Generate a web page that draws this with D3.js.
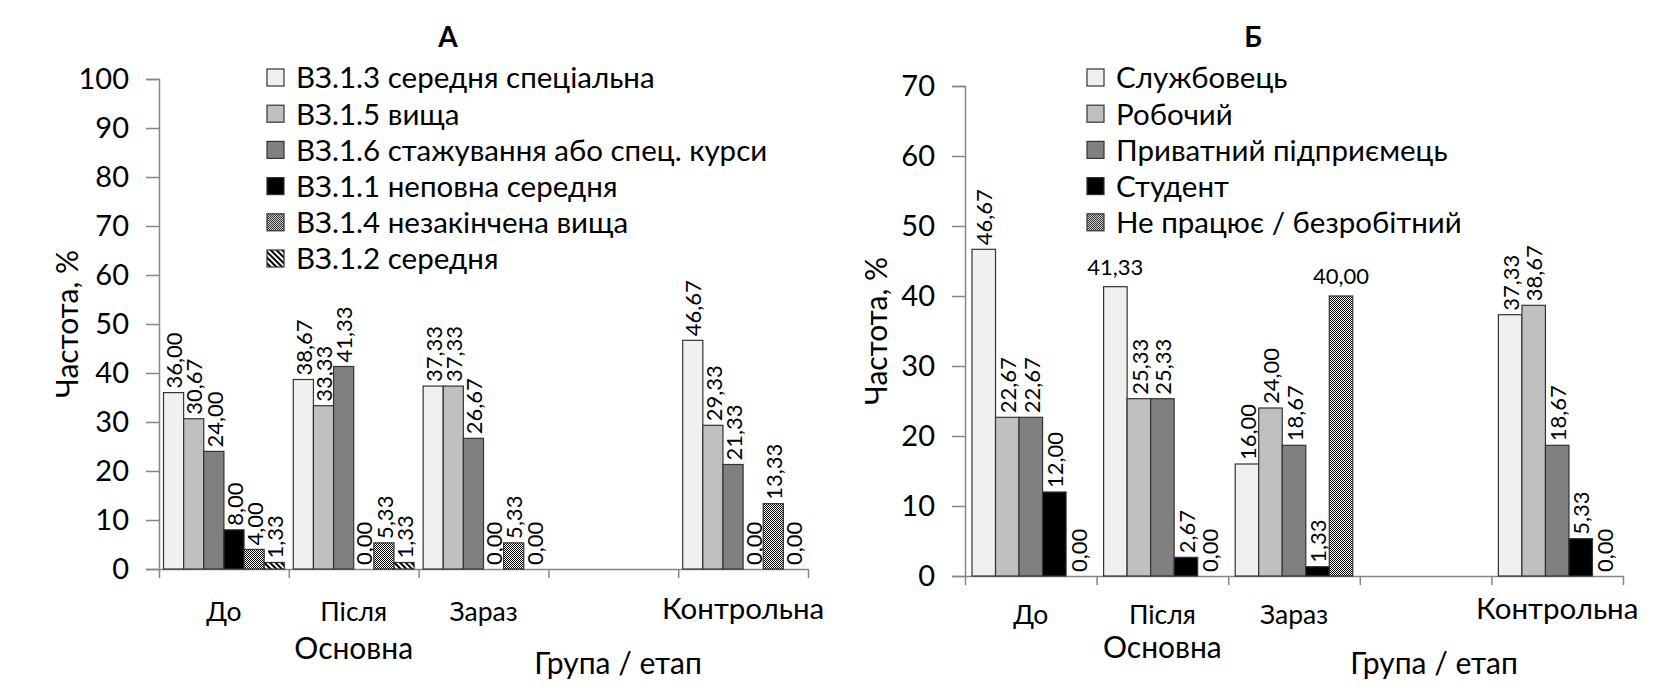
<!DOCTYPE html>
<html>
<head>
<meta charset="utf-8">
<script src="https://cdn.jsdelivr.net/npm/d3@7"></script>
<style>
  body { margin: 0; background: #fff; }
  svg text { font-family: Lato, "Open Sans", sans-serif; fill: #000; }
</style>
</head>
<body>
<svg id="chart" width="1672" height="695"></svg>
<script>
// categories on the x axis (the 4th slot is an empty gap)
var groups = ["До", "Після", "Зараз", "", "Контрольна"];

// chart A
var seriesA = ["ВЗ.1.3 середня спеціальна", "ВЗ.1.5 вища", "ВЗ.1.6 стажування або спец. курси",
               "ВЗ.1.1 неповна середня", "ВЗ.1.4 незакінчена вища", "ВЗ.1.2 середня"];
var valuesA = [
  [36.00, 38.67, 37.33, null, 46.67],
  [30.67, 33.33, 37.33, null, 29.33],
  [24.00, 41.33, 26.67, null, 21.33],
  [8.00, 0.00, 0.00, null, 0.00],
  [4.00, 5.33, 5.33, null, 13.33],
  [1.33, 1.33, 0.00, null, 0.00]
];
var ticksA = [0, 10, 20, 30, 40, 50, 60, 70, 80, 90, 100];

// chart Б
var seriesB = ["Службовець", "Робочий", "Приватний підприємець", "Студент", "Не працює / безробітний"];
var valuesB = [
  [46.67, 41.33, 16.00, null, 37.33],
  [22.67, 25.33, 24.00, null, 38.67],
  [22.67, 25.33, 18.67, null, 18.67],
  [12.00, 2.67, 1.33, null, 5.33],
  [0.00, 0.00, 40.00, null, 0.00]
];
var ticksB = [0, 10, 20, 30, 40, 50, 60, 70];

// labels drawn flat instead of rotated (series index, group index)
var flatLabelsB = [[0, 1], [4, 2]];

var fillsA = ["#f0f0f0", "#c0c0c0", "#808080", "#000", "url(#checker)", "url(#stripes)"];
var fillsB = ["#f0f0f0", "#c0c0c0", "#808080", "#000", "url(#checker)"];

var svg = d3.select("#chart");
var defs = svg.append("defs");

var checker = defs.append("pattern").attr("id", "checker")
  .attr("patternUnits", "userSpaceOnUse").attr("width", 2).attr("height", 2);
checker.append("rect").attr("width", 2).attr("height", 2).attr("fill", "#fff");
checker.append("rect").attr("width", 1).attr("height", 1).attr("fill", "#000");
checker.append("rect").attr("x", 1).attr("y", 1).attr("width", 1).attr("height", 1).attr("fill", "#000");

var stripes = defs.append("pattern").attr("id", "stripes")
  .attr("patternUnits", "userSpaceOnUse").attr("width", 4).attr("height", 4)
  .attr("patternTransform", "rotate(-45)");
stripes.append("rect").attr("width", 4).attr("height", 4).attr("fill", "#fff");
stripes.append("rect").attr("width", 2).attr("height", 4).attr("fill", "#000");

var fmt = function(v) { return v.toFixed(2).replace(".", ","); };

function drawChart(opt) {
  var g = svg.append("g");
  var x = d3.scaleBand().domain(d3.range(groups.length)).range([opt.x0, opt.x1]);
  var xs = d3.scaleBand().domain(d3.range(opt.series.length))
    .range([opt.pad, x.bandwidth() - opt.pad]);
  var y = d3.scaleLinear().domain([0, opt.max]).range([opt.y0, opt.yTop]);

  // y axis
  var ya = g.append("g").attr("transform", "translate(" + opt.x0 + ",0)")
    .call(d3.axisLeft(y).tickValues(opt.ticks).tickSize(13).tickPadding(17));
  ya.selectAll("text").style("font-size", "29px");
  ya.selectAll("line, path").attr("stroke", "#868686").attr("stroke-width", 1.5);

  // x axis with ticks on the category boundaries
  var bnd = d3.scaleLinear().domain([0, groups.length]).range([opt.x0, opt.x1]);
  var xa = g.append("g").attr("transform", "translate(0," + opt.y0 + ")")
    .call(d3.axisBottom(bnd).tickValues(d3.range(groups.length + 1)).tickFormat("").tickSize(9).tickSizeOuter(0));
  xa.selectAll("line, path").attr("stroke", "#868686").attr("stroke-width", 1.5);

  opt.series.forEach(function(s, si) {
    var data = opt.values[si].map(function(v, gi) { return {v: v, g: gi, s: si}; })
      .filter(function(d) { return d.v !== null; });
    g.selectAll(".bar" + si).data(data).enter().append("rect")
      .attr("x", function(d) { return x(d.g) + xs(d.s); })
      .attr("y", function(d) { return y(d.v); })
      .attr("width", xs.bandwidth())
      .attr("height", function(d) { return opt.y0 - y(d.v); })
      .attr("fill", opt.fills[si])
      .attr("stroke", function(d) { return d.v > 0 ? "#333" : "none"; })
      .attr("stroke-width", 1.2);

    g.selectAll(".lbl" + si).data(data).enter().append("text")
      .each(function(d) {
        var cx = x(d.g) + xs(d.s) + xs.bandwidth() / 2;
        var flat = opt.flat.some(function(f) { return f[0] === d.s && f[1] === d.g; });
        var t = d3.select(this).text(fmt(d.v)).style("font-size", "22px");
        if (flat) {
          t.attr("x", cx).attr("y", y(d.v) - 12).attr("text-anchor", "middle");
        } else {
          t.attr("transform", "translate(" + (cx + 1) + "," + (y(d.v) - 4) + ") rotate(-90)")
            .attr("dy", "0.35em");
        }
      });
  });

  // category labels
  groups.forEach(function(name, gi) {
    if (!name) return;
    var big = name === "Контрольна";
    g.append("text").attr("x", x(gi) + x.bandwidth() / 2)
      .attr("y", opt.y0 + (big ? opt.dyBig : opt.dyCat))
      .attr("text-anchor", "middle")
      .style("font-size", big ? "29.5px" : "26.5px")
      .text(name);
  });
  g.append("text").attr("x", (x(0) + x(2) + x.bandwidth()) / 2).attr("y", opt.y0 + opt.dyOsn)
    .attr("text-anchor", "middle").style("font-size", "30px").text("Основна");
  g.append("text").attr("x", opt.xTitle).attr("y", opt.y0 + opt.dyTitle)
    .attr("text-anchor", "middle").style("font-size", "30px").text("Група / етап");

  g.append("text").attr("transform", "translate(" + opt.yLabelX + "," + ((opt.y0 + opt.yTop) / 2) + ") rotate(-90)")
    .attr("text-anchor", "middle").attr("dy", "0.35em").style("font-size", "30px").text("Частота, %");

  g.append("text").attr("x", opt.titleX).attr("y", 47).attr("text-anchor", "middle")
    .style("font-size", "28px").style("font-weight", "bold").text(opt.title);

  // legend
  var lg = g.append("g").attr("transform", "translate(" + opt.legX + "," + opt.legY + ")");
  opt.series.forEach(function(s, si) {
    var row = lg.append("g").attr("transform", "translate(0," + (si * 36.2) + ")");
    row.append("rect").attr("x", 0).attr("y", -9).attr("width", 17).attr("height", 17)
      .attr("fill", opt.fills[si]).attr("stroke", "#333").attr("stroke-width", 1.2);
    row.append("text").attr("x", 29).attr("dy", "0.35em").style("font-size", "29.5px").text(s);
  });
}

drawChart({
  series: seriesA, values: valuesA, fills: fillsA, ticks: ticksA, flat: [],
  x0: 159, x1: 808, y0: 569, yTop: 79, max: 100, pad: 4.5,
  dyCat: 52, dyBig: 50, dyOsn: 90, dyTitle: 105,
  xTitle: 618, yLabelX: 67, titleX: 448, title: "А", legX: 267, legY: 78
});
drawChart({
  series: seriesB, values: valuesB, fills: fillsB, ticks: ticksB, flat: flatLabelsB,
  x0: 965, x1: 1623, y0: 576, yTop: 86, max: 70, pad: 7,
  dyCat: 48, dyBig: 43, dyOsn: 82, dyTitle: 98,
  xTitle: 1434, yLabelX: 876, titleX: 1253, title: "Б", legX: 1087, legY: 78
});
</script>
</body>
</html>
